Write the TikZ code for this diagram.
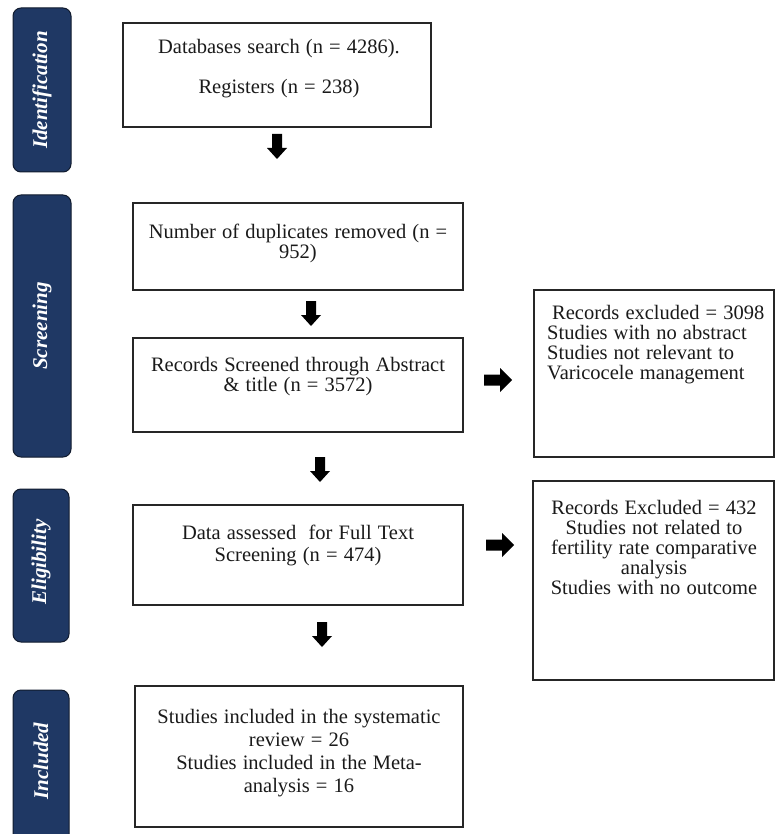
\documentclass[tikz,border=0pt]{standalone}
\usepackage{fontspec}
\setmainfont{Liberation Serif}
\definecolor{navy}{HTML}{1F3864}
\definecolor{navyedge}{HTML}{111B2E}
\definecolor{boxedge}{HTML}{262626}
\definecolor{ink}{HTML}{1A1A1A}
\newcommand{\wordspc}{\spaceskip=0.3em plus 0.1em minus 0.02em\relax}
\begin{document}
\begin{tikzpicture}[x=1pt,y=-1pt,
  bar/.style={draw=navyedge, line width=1pt, fill=navy, rounded corners=8pt},
  barlabel/.style={text=white, rotate=90, inner sep=0pt, font=\fontsize{21}{21}\selectfont\bfseries\itshape},
  flowbox/.style={draw=boxedge, line width=1.1pt},
  txt/.style={inner sep=0pt, align=center, text=ink, font=\fontsize{20.5}{20}\selectfont\wordspc, execute at begin node=\strut},
  blk/.style={fill=black},
  downarr/.pic={\fill[blk] (-5,0) -- (5,0) -- (5,14) -- (10,14) -- (0,25) -- (-10,14) -- (-5,14) -- cycle;},
  rightarr/.pic={\fill[blk] (0,-5.5) -- (16,-5.5) -- (16,-12) -- (28,0) -- (16,12) -- (16,5.5) -- (0,5.5) -- cycle;}
]
\useasboundingbox (0,0) rectangle (775,834);
\fill[white] (0,0) rectangle (775,834);

% phase bars
\draw[bar] (13,8) rectangle (71,172);
\node[barlabel] (lid) at (42,90) {Identification};
\draw[bar] (13,195) rectangle (71,457);
\node[barlabel] (lsc) at (42,326) {Screening};
\draw[bar] (13,489) rectangle (69,642);
\node[barlabel] (lel) at (41,562) {Eligibility};
\draw[bar] (13,690) rectangle (69,850);
\node[barlabel] (lin) at (41,761) {Included};

% boxes
\draw[flowbox] (123,23) rectangle (431,127);
\node[txt] (t1) at (279,39) [anchor=north] {Databases search (n = 4286).\\[20pt]Registers (n = 238)};

\draw[flowbox] (133,203) rectangle (463,290);
\node[txt] (t2) at (298,224) [anchor=north] {Number of duplicates removed (n =\\952)};

\draw[flowbox] (133,338) rectangle (463,432);
\node[txt] (t3) at (298,357) [anchor=north] {Records Screened through Abstract\\\&\ title (n = 3572)};

\draw[flowbox] (534,290) rectangle (774,457);
\node[txt, align=left] (t4) at (547,305) [anchor=north west] {\hspace{5pt}Records excluded = 3098\\Studies with no abstract\\Studies not relevant to\\Varicocele management};

\draw[flowbox] (133,505) rectangle (463,605);
\node[txt, font=\fontsize{20.5}{21.5}\selectfont\wordspc] (t5) at (298,525) [anchor=north] {Data assessed \ for Full Text\\Screening (n = 474)};

\draw[flowbox] (533,481) rectangle (774,680);
\node[txt] (t6) at (654,500) [anchor=north] {Records Excluded = 432\\Studies not related to\\fertility rate comparative\\analysis\\Studies with no outcome};

\draw[flowbox] (135,686) rectangle (463,827);
\node[txt, font=\fontsize{20.5}{23}\selectfont\wordspc] (t7) at (299,709) [anchor=north] {Studies included in the systematic\\review = 26\\Studies included in the Meta-\\analysis = 16};

% block arrows
\coordinate (a1) at (277,134);
\coordinate (a2) at (311,301);
\coordinate (a3) at (320,457);
\coordinate (a4) at (322,622);
\coordinate (r1) at (484,380);
\coordinate (r2) at (486,545);
\pic at (a1) {downarr};
\pic at (a2) {downarr};
\pic at (a3) {downarr};
\pic at (a4) {downarr};
\pic at (r1) {rightarr};
\pic at (r2) {rightarr};
\end{tikzpicture}
\end{document}
